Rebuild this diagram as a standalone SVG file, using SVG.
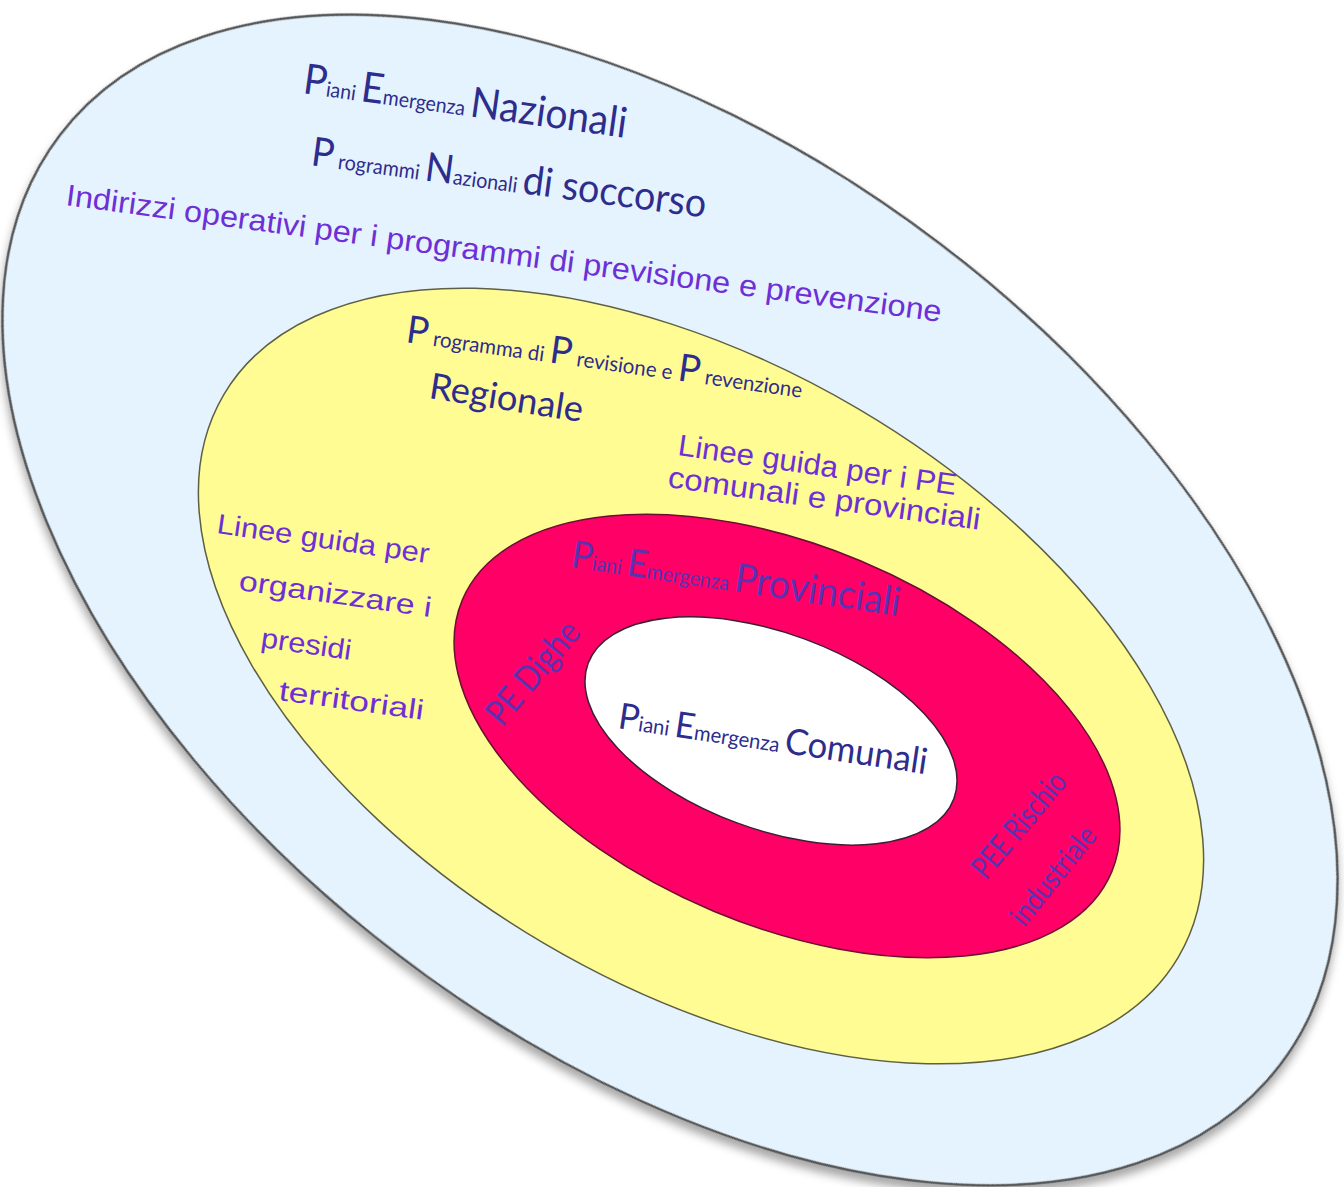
<svg xmlns="http://www.w3.org/2000/svg" width="1344" height="1187" viewBox="0 0 1344 1187">
<style>
.nav{font-family:Lato,"Noto Sans","Liberation Sans",sans-serif;fill:#2E2C8C}
.hw{font-family:"Liberation Sans","DejaVu Sans",sans-serif;fill:#6E2FD6}
.red{font-family:Lato,"Noto Sans","Liberation Sans",sans-serif;fill:#5B33B0}
.s{font-size:21px}
</style>
<defs>
<filter id="sh" x="-10%" y="-10%" width="120%" height="120%">
<feDropShadow dx="4" dy="6" stdDeviation="5" flood-color="#000" flood-opacity="0.35"/>
</filter>
</defs>
<rect width="1344" height="1187" fill="#fff"/>
<g id="nazionale">
<ellipse cx="670" cy="600" rx="767" ry="447" transform="rotate(37.3 670 600)" fill="#E4F3FD" stroke="#555" stroke-width="2.5" filter="url(#sh)"/>
<text class="nav" transform="translate(302 93) rotate(7.9)" textLength="326" lengthAdjust="spacingAndGlyphs"><tspan font-size="42">P</tspan><tspan class="s">iani </tspan><tspan font-size="42">E</tspan><tspan class="s">mergenza </tspan><tspan font-size="42">Nazionali</tspan></text>
<text class="nav" transform="translate(310 165) rotate(7.6)" textLength="398" lengthAdjust="spacingAndGlyphs"><tspan font-size="40">P</tspan><tspan class="s"> rogrammi </tspan><tspan font-size="40">N</tspan><tspan class="s">azionali </tspan><tspan font-size="40">di soccorso</tspan></text>
<text class="hw" font-size="30" transform="translate(65 205) rotate(7.6)" textLength="883" lengthAdjust="spacingAndGlyphs">Indirizzi operativi per i programmi di previsione e prevenzione</text>
</g>
<g id="regionale">
<ellipse cx="701" cy="676" rx="554" ry="310" transform="rotate(30.5 701 676)" fill="#FFFC94" stroke="#5f5f45" stroke-width="1.5"/>
<text class="nav" transform="translate(405 342) rotate(8)" textLength="400" lengthAdjust="spacingAndGlyphs"><tspan font-size="38">P</tspan><tspan class="s"> rogramma di </tspan><tspan font-size="38">P</tspan><tspan class="s"> revisione e </tspan><tspan font-size="38">P</tspan><tspan class="s"> revenzione</tspan></text>
<text class="nav" font-size="36" transform="translate(428 398) rotate(8.9)" textLength="155" lengthAdjust="spacingAndGlyphs">Regionale</text>
<text class="hw" font-size="30" transform="translate(677 455) rotate(8.2)" textLength="281" lengthAdjust="spacingAndGlyphs">Linee guida per i PE</text>
<text class="hw" font-size="30" transform="translate(667 487) rotate(7.8)" textLength="315" lengthAdjust="spacingAndGlyphs">comunali e provinciali</text>
<text class="hw" font-size="28" transform="translate(216 533) rotate(8.1)" textLength="214" lengthAdjust="spacingAndGlyphs">Linee guida per</text>
<text class="hw" font-size="28" transform="translate(238 590) rotate(8)" textLength="194" lengthAdjust="spacingAndGlyphs">organizzare i</text>
<text class="hw" font-size="28" transform="translate(260 647) rotate(8.2)" textLength="91" lengthAdjust="spacingAndGlyphs">presidi</text>
<text class="hw" font-size="28" transform="translate(278 700) rotate(7.8)" textLength="146" lengthAdjust="spacingAndGlyphs">territoriali</text>
</g>
<g id="provinciale">
<ellipse cx="787" cy="736" rx="352" ry="190" transform="rotate(22.7 787 736)" fill="#FF0066" stroke="#6a1030" stroke-width="1.5"/>
<text class="red" transform="translate(570 567) rotate(8.5)" textLength="332" lengthAdjust="spacingAndGlyphs"><tspan font-size="38">P</tspan><tspan class="s">iani </tspan><tspan font-size="38">E</tspan><tspan class="s">mergenza </tspan><tspan font-size="40">Provinciali</tspan></text>
<text class="red" font-size="36" transform="translate(502 728) rotate(-49.7)" textLength="124" lengthAdjust="spacingAndGlyphs">PE Dighe</text>
<text class="red" font-size="32" transform="translate(986 881) rotate(-50)" textLength="128" lengthAdjust="spacingAndGlyphs">PEE Rischio</text>
<text class="red" font-size="30" transform="translate(1024 928) rotate(-51)" textLength="118" lengthAdjust="spacingAndGlyphs">industriale</text>
</g>
<g id="comunale">
<ellipse cx="771" cy="731" rx="195" ry="98" transform="rotate(20.3 771 731)" fill="#FFFFFF" stroke="#3a2030" stroke-width="1.5"/>
<text class="nav" transform="translate(617 728) rotate(8.5)" textLength="312" lengthAdjust="spacingAndGlyphs"><tspan font-size="36">P</tspan><tspan class="s">iani </tspan><tspan font-size="36">E</tspan><tspan class="s">mergenza </tspan><tspan font-size="36">Comunali</tspan></text>
</g>
<g id="connectors"/>
</svg>
